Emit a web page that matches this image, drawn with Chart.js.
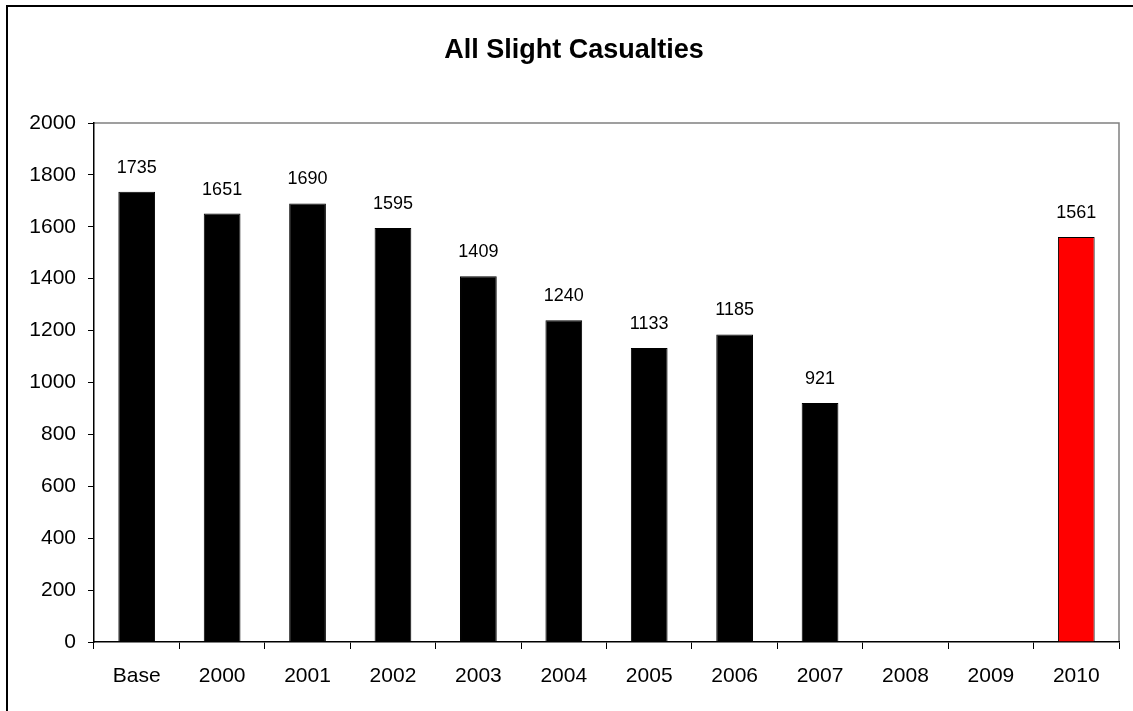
<!DOCTYPE html>
<html>
<head>
<meta charset="utf-8">
<title>All Slight Casualties</title>
<script src="https://cdn.jsdelivr.net/npm/chart.js@4"></script>
<style>
    html, body { margin: 0; padding: 0; background: #ffffff; }
    canvas { display: block; }
</style>
</head>
<body>
<canvas id="chart" width="1133" height="711"></canvas>
<script>
const categories = ['Base', '2000', '2001', '2002', '2003', '2004', '2005', '2006', '2007', '2008', '2009', '2010'];
const casualties = [1735, 1651, 1690, 1595, 1409, 1240, 1133, 1185, 921, null, null, 1561];
const yMin = 0;
const yMax = 2000;
const yStep = 200;
const chartTitle = 'All Slight Casualties';
const targetYear = '2010';

const FONT = 'Arial, "Liberation Sans", sans-serif';

// frame round the whole picture, title and grey plot border
const framePlugin = {
    id: 'frame',
    beforeDraw(chart) {
        const ctx = chart.ctx;
        const area = chart.chartArea;
        ctx.save();
        ctx.strokeStyle = '#000';
        ctx.lineWidth = 2;
        ctx.beginPath();
        ctx.moveTo(7, chart.height);
        ctx.lineTo(7, 6);
        ctx.lineTo(chart.width, 6);
        ctx.stroke();

        ctx.strokeStyle = '#808080';
        ctx.lineWidth = 1.5;
        ctx.beginPath();
        ctx.moveTo(area.left, area.top);
        ctx.lineTo(area.right, area.top);
        ctx.lineTo(area.right, area.bottom);
        ctx.stroke();

        ctx.fillStyle = '#000';
        ctx.font = 'bold 27px ' + FONT;
        ctx.textAlign = 'center';
        ctx.textBaseline = 'middle';
        ctx.fillText(chartTitle, 574, 51);
        ctx.restore();
    }
};

// value written above each bar
const valueLabels = {
    id: 'valueLabels',
    afterDatasetsDraw(chart) {
        const ctx = chart.ctx;
        const meta = chart.getDatasetMeta(0);
        ctx.save();
        ctx.fillStyle = '#000';
        ctx.font = '18px ' + FONT;
        ctx.textAlign = 'center';
        ctx.textBaseline = 'middle';
        meta.data.forEach((bar, i) => {
            const v = casualties[i];
            if (v === null) return;
            ctx.fillText(String(v), bar.x, bar.y - 24);
        });
        ctx.restore();
    }
};

const ctx = document.getElementById('chart').getContext('2d');
new Chart(ctx, {
    type: 'bar',
    data: {
        labels: categories,
        datasets: [{
            data: casualties,
            backgroundColor: c => categories[c.dataIndex] === targetYear ? '#ff0000' : '#000000',
            borderColor: '#000000',
            borderWidth: 1,
            categoryPercentage: 1,
            barPercentage: 0.43
        }]
    },
    options: {
        responsive: false,
        animation: false,
        layout: {
            padding: { top: 123, right: 14, bottom: 0, left: 0 }
        },
        plugins: {
            legend: { display: false },
            title: { display: false },
            tooltip: { enabled: false }
        },
        scales: {
            x: {
                afterFit: s => { s.height = 69; },
                border: { color: '#000', width: 1.5 },
                grid: {
                    offset: true,
                    drawOnChartArea: false,
                    drawTicks: true,
                    tickLength: 7,
                    color: '#000',
                    lineWidth: 1
                },
                ticks: {
                    color: '#000',
                    font: { family: FONT, size: 21 },
                    padding: 15,
                    maxRotation: 0
                }
            },
            y: {
                min: yMin,
                max: yMax,
                afterFit: s => { s.width = 94; },
                border: { color: '#000', width: 1.5 },
                grid: {
                    drawOnChartArea: false,
                    drawTicks: true,
                    tickLength: 6,
                    color: '#000',
                    lineWidth: 1
                },
                ticks: {
                    stepSize: yStep,
                    color: '#000',
                    font: { family: FONT, size: 21 },
                    padding: 12,
                    callback: v => String(v)
                }
            }
        }
    },
    plugins: [framePlugin, valueLabels]
});
</script>
</body>
</html>
